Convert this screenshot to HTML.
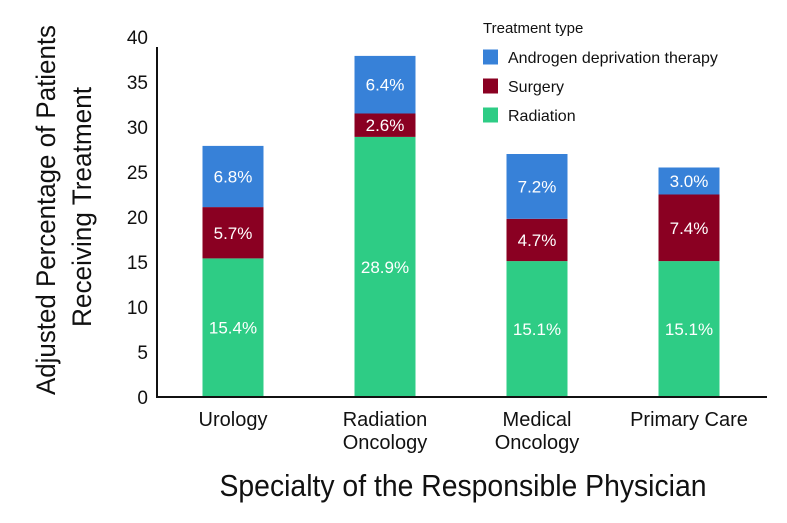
<!DOCTYPE html>
<html><head><meta charset="utf-8"><style>
body{margin:0;background:#fff}
svg{display:block;font-family:"Liberation Sans",sans-serif}
</style></head><body>
<svg id="c" width="787" height="523" viewBox="0 0 787 523"></svg>
<script>
const categories=[["Urology"],["Radiation","Oncology"],["Medical","Oncology"],["Primary Care"]];
const radiation=[15.4,28.9,15.1,15.1];
const surgery=[5.7,2.6,4.7,7.4];
const adt=[6.8,6.4,7.2,3.0];
const yTicks=[0,5,10,15,20,25,30,35,40];
const seriesNames=["Androgen deprivation therapy","Surgery","Radiation"];
const colors={rad:"#2ecc85",surg:"#8a0022",adt:"#3781d8"};
const svg=document.getElementById('c');
const NS="http://www.w3.org/2000/svg";
function el(t,a,txt){const e=document.createElementNS(NS,t);for(const k in a)e.setAttribute(k,a[k]);if(txt!=null)e.textContent=txt;svg.appendChild(e);return e;}
const y0=397,xAxis=157;
const y=v=>y0-v*9.0;
const xc=i=>233+i*152;
const bw=61;
yTicks.forEach(t=>{const e=el('text',{x:148,y:y(t)+7,'text-anchor':'end','font-size':19,fill:'#111'},t);

});
categories.forEach((c,i)=>{
 let base=0;
 [[radiation,colors.rad,'radiation'],[surgery,colors.surg,'surgery'],[adt,colors.adt,'adt']].forEach(([arr,col,nm])=>{
  const v=arr[i];const r=el('rect',{x:xc(i)-bw/2,y:y(base+v),width:bw,height:y(base)-y(base+v),fill:col});
  
  
  const t=el('text',{x:xc(i),y:(y(base)+y(base+v))/2+6,'text-anchor':'middle','font-size':17,fill:'#fff'},v.toFixed(1)+'%');
  
  
  base+=v;
 });
 c.forEach((line,j)=>{const t=el('text',{x:xc(i),y:426+j*23,'text-anchor':'middle','font-size':20,fill:'#111'},line);
 
 });
});
const ya=el('line',{x1:xAxis,y1:y(40)+10,x2:xAxis,y2:y0,stroke:'#111','stroke-width':2});


const xa=el('line',{x1:xAxis-1,y1:y0,x2:767,y2:y0,stroke:'#111','stroke-width':2});


const lt=el('text',{x:483,y:33,'font-size':15,fill:'#111'},'Treatment type');


[colors.adt,colors.surg,colors.rad].forEach((col,k)=>{
 const cy=57+k*29;
 const s=el('rect',{x:483,y:cy-7.5,width:15,height:15,fill:col});
 
 
 const t=el('text',{x:508,y:cy+6,'font-size':16,fill:'#111'},seriesNames[k]);
 
 
});
const y1=el('text',{transform:'translate(55,210) rotate(-90)','text-anchor':'middle','font-size':27,fill:'#111',textLength:370,lengthAdjust:'spacingAndGlyphs'},'Adjusted Percentage of Patients');


const y2=el('text',{transform:'translate(91,207) rotate(-90)','text-anchor':'middle','font-size':27,fill:'#111',textLength:240,lengthAdjust:'spacingAndGlyphs'},'Receiving Treatment');


const xt=el('text',{x:463,y:496,'text-anchor':'middle','font-size':31,fill:'#111',textLength:487,lengthAdjust:'spacingAndGlyphs'},'Specialty of the Responsible Physician');


</script>
</body></html>
